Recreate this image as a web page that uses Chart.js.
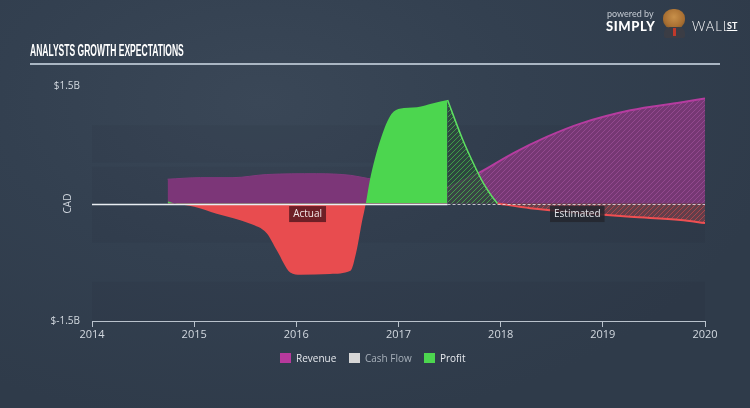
<!DOCTYPE html>
<html><head><meta charset="utf-8">
<script src="https://cdn.jsdelivr.net/npm/chart.js@4"></script>
<style>
html,body{margin:0;padding:0;width:750px;height:408px;overflow:hidden;background:#323f4e;}
#wrap{position:relative;width:750px;height:408px;background:radial-gradient(ellipse 70% 80% at 35% 25%, #3a4757 0%, #334050 50%, #2f3b4a 100%);}
canvas{position:absolute;left:0;top:0;}
#title{position:absolute;left:30px;top:42px;color:#fff;font:bold 16px "Liberation Sans Narrow",sans-serif;white-space:nowrap;transform-origin:0 0;}
#rule{position:absolute;left:30px;top:63px;width:690px;height:2px;background:#aab6c3;}
.lg{position:absolute;top:351px;font:10px "Open Sans",sans-serif;color:#e6e9ee;white-space:nowrap;}
.sw{display:inline-block;width:11px;height:10px;vertical-align:-1px;margin-right:5px;}
#pb{position:absolute;left:607px;top:8px;font:9px Lato,sans-serif;color:#c5cbd3;}
#simply{position:absolute;left:606px;top:18px;font:900 13px Lato,sans-serif;color:#fff;letter-spacing:0.6px;}
#wall{position:absolute;left:692px;top:18px;font:300 13px Lato,sans-serif;color:#fff;letter-spacing:1px;}
#st{position:absolute;left:727px;top:20px;font:bold 9px Lato,sans-serif;color:#fff;text-decoration:underline;}
#head{position:absolute;left:663px;top:9px;width:22px;height:20px;border-radius:45%;background:radial-gradient(circle at 50% 40%, #c8904a 0%, #a86f32 60%, #6d4a26 100%);}
#suit{position:absolute;left:664px;top:27px;width:21px;height:11px;border-radius:6px 6px 2px 2px;background:#3b3d45;}
#tie{position:absolute;left:673px;top:28px;width:3px;height:8px;background:#c0392b;}
</style></head>
<body><div id="wrap">
<canvas id="c" width="750" height="408"></canvas>
<div id="title">ANALYSTS GROWTH EXPECTATIONS</div>
<div id="rule"></div>
<div id="pb">powered by</div>
<div id="simply">SIMPLY</div>
<div id="head"></div><div id="suit"></div><div id="tie"></div>
<div id="wall">WALL</div>
<div id="st">ST</div>
<div class="lg" style="left:280px"><span class="sw" style="background:#b7399c"></span>Revenue</div>
<div class="lg" style="left:349px;color:#a7b0ba"><span class="sw" style="background:#d6d6d6"></span>Cash Flow</div>
<div class="lg" style="left:424px"><span class="sw" style="background:#4cd64f"></span>Profit</div>
</div>
<script>
// ---- data (values in billions CAD) ----
const xTicks = [2014, 2015, 2016, 2017, 2018, 2019, 2020];

const revenueActualX = [2014.74, 2015.06, 2015.38, 2015.71, 2016.2, 2016.53, 2016.7, 2017.0, 2017.3, 2017.48];
const revenueActualY = [0.31, 0.33, 0.33, 0.37, 0.38, 0.36, 0.32, 0.27, 0.23, 0.2];

const revenueEstX = [2017.48, 2017.8, 2018.12, 2018.45, 2018.78, 2019.27, 2019.76, 2020.0];
const revenueEstY = [0.2, 0.4, 0.64, 0.85, 1.02, 1.19, 1.29, 1.34];

const profitActualX = [2014.74, 2014.81, 2015.0, 2015.22, 2015.55, 2015.71, 2015.81, 2015.94, 2016.04, 2016.33, 2016.53, 2016.59, 2016.64, 2016.68, 2016.72, 2016.82, 2016.92, 2017.01, 2017.18, 2017.34, 2017.48];
const profitActualY = [0.03, 0.0, -0.04, -0.13, -0.26, -0.38, -0.6, -0.88, -0.91, -0.9, -0.86, -0.6, -0.25, 0.0, 0.3, 0.8, 1.12, 1.21, 1.23, 1.28, 1.32];

const profitEstPosX = [2017.48, 2017.63, 2017.73, 2017.83, 2017.92, 2017.97];
const profitEstPosY = [1.32, 0.81, 0.52, 0.26, 0.08, 0.0];

const profitEstNegX = [2017.97, 2018.29, 2018.78, 2019.27, 2019.76, 2020.0];
const profitEstNegY = [0.0, -0.06, -0.12, -0.17, -0.21, -0.25];

const estimateStart = 2017.48;
const yRange = [-1.5, 1.5];

const pts = (xs, ys) => xs.map((x, i) => ({x, y: ys[i]}));

function hatch(bg, line, size, lw) {
  const c = document.createElement('canvas'); c.width = c.height = size;
  const g = c.getContext('2d');
  g.fillStyle = bg; g.fillRect(0, 0, size, size);
  g.strokeStyle = line; g.lineWidth = lw;
  g.beginPath();
  g.moveTo(0, size); g.lineTo(size, 0);
  g.moveTo(-1, 1); g.lineTo(1, -1);
  g.moveTo(size - 1, size + 1); g.lineTo(size + 1, size - 1);
  g.stroke();
  return g.createPattern(c, 'repeat');
}
const purpleHatch = hatch('rgba(122,56,118,0.95)', 'rgba(150,75,145,0.9)', 5, 1);
const greenHatch = hatch('rgba(44,72,60,0.82)', 'rgba(76,214,79,0.6)', 5, 1);
const redHatch = hatch('rgba(232,76,79,0.28)', 'rgba(232,76,79,0.55)', 5, 1);

// title width fit
const t = document.getElementById('title');
t.style.transform = 'scaleX(' + (154 / t.offsetWidth) + ')';

const bandsPlugin = {
  id: 'bands',
  beforeDatasetsDraw(chart) {
    const {ctx, chartArea: a, scales: {y}} = chart;
    const bands = [[1.0, 0.52], [0.47, -0.5], [-1.0, -1.5]];
    ctx.save();
    ctx.fillStyle = 'rgba(0,0,0,0.035)';
    bands.forEach(([hi, lo]) => {
      const y1 = y.getPixelForValue(hi), y2 = y.getPixelForValue(lo);
      ctx.fillRect(a.left, y1, a.right - a.left, y2 - y1);
    });
    ctx.restore();
  }
};

const overlayPlugin = {
  id: 'overlay',
  afterDatasetsDraw(chart) {
    const {ctx, chartArea: a, scales: {x, y}} = chart;
    const y0 = Math.round(y.getPixelForValue(0)) + 0.5;
    const xe = x.getPixelForValue(estimateStart);
    ctx.save();
    ctx.lineWidth = 1.5;
    ctx.strokeStyle = '#e9edf2';
    ctx.beginPath(); ctx.moveTo(a.left, y0); ctx.lineTo(xe, y0); ctx.stroke();
    ctx.setLineDash([3, 2]);
    ctx.strokeStyle = 'rgba(240,240,245,0.75)';
    ctx.lineWidth = 1;
    ctx.beginPath(); ctx.moveTo(xe, y0); ctx.lineTo(a.right, y0); ctx.stroke();
    ctx.setLineDash([]);
    // labels
    ctx.font = '10px "Open Sans", sans-serif';
    ctx.textBaseline = 'middle'; ctx.textAlign = 'center';
    const lab = (txt, xv, yv, bg, fg) => {
      const px = x.getPixelForValue(xv), py = y.getPixelForValue(yv);
      const w = ctx.measureText(txt).width + 8;
      ctx.fillStyle = bg; ctx.fillRect(px - w / 2, py - 8, w, 16);
      ctx.fillStyle = fg; ctx.fillText(txt, px, py + 0.5);
    };
    lab('Actual', 2016.11, -0.135, '#6e1f26', '#f2e6e6');
    lab('Estimated', 2018.75, -0.135, 'rgba(35,38,46,0.85)', '#e4e6ea');
    ctx.restore();
  },
  afterDraw(chart) {
    const {ctx, scales: {y}} = chart;
    ctx.save();
    ctx.translate(68, y.getPixelForValue(0));
    ctx.rotate(-Math.PI / 2);
    ctx.font = '10px "Open Sans", sans-serif';
    ctx.fillStyle = '#d0d6de';
    ctx.textAlign = 'center'; ctx.textBaseline = 'middle';
    ctx.fillText('CAD', 0, 0);
    ctx.restore();
  }
};

new Chart(document.getElementById('c'), {
  type: 'line',
  data: {
    datasets: [
      {label: 'Revenue', data: pts(revenueActualX, revenueActualY), order: 5,
       borderColor: '#82397e', borderWidth: 1, backgroundColor: '#7c3678', fill: 'origin',
       pointRadius: 0, cubicInterpolationMode: 'monotone'},
      {label: 'Revenue est', data: pts(revenueEstX, revenueEstY), order: 4,
       borderColor: '#b53c9f', borderWidth: 2, backgroundColor: purpleHatch, fill: 'origin',
       pointRadius: 0, cubicInterpolationMode: 'monotone'},
      {label: 'Profit', data: pts(profitActualX, profitActualY), order: 3,
       borderWidth: 0, borderColor: 'rgba(0,0,0,0)',
       fill: {target: 'origin', above: '#4cd64f', below: '#e84c4f'},
       pointRadius: 0, cubicInterpolationMode: 'monotone'},
      {label: 'Profit est +', data: pts(profitEstPosX, profitEstPosY), order: 2,
       borderColor: '#5ee062', borderWidth: 1.5, backgroundColor: greenHatch, fill: 'origin',
       pointRadius: 0, cubicInterpolationMode: 'monotone'},
      {label: 'Profit est -', data: pts(profitEstNegX, profitEstNegY), order: 1,
       borderColor: '#ef4f52', borderWidth: 2, backgroundColor: redHatch, fill: 'origin',
       pointRadius: 0, cubicInterpolationMode: 'monotone'}
    ]
  },
  options: {
    responsive: false, animation: false, devicePixelRatio: 1,
    layout: {padding: {left: 0, right: 45, top: 86, bottom: 57}},
    plugins: {legend: {display: false}, tooltip: {enabled: false}},
    scales: {
      x: {type: 'linear', min: xTicks[0], max: xTicks[xTicks.length - 1],
          afterBuildTicks: s => { s.ticks = xTicks.map(v => ({value: v})); },
          ticks: {color: '#d3d9e0', font: {size: 11, family: 'Open Sans'}, padding: 1, callback: v => String(v), maxRotation: 0},
          grid: {drawOnChartArea: false, drawTicks: true, tickLength: 6, color: '#b9c2cc', lineWidth: 1},
          border: {display: true, color: '#b9c2cc', width: 1},
          afterFit: s => { s.height = 30; }},
      y: {min: yRange[0], max: yRange[1],
          afterBuildTicks: s => { s.ticks = [{value: yRange[0]}, {value: 0}, {value: yRange[1]}]; },
          ticks: {color: '#d3d9e0', font: {size: 10, family: 'Open Sans'}, padding: 12,
                  callback: v => v === 0 ? '' : '$' + v + 'B'},
          grid: {display: false, drawTicks: false},
          border: {display: false},
          afterFit: s => { s.width = 92; }}
    }
  },
  plugins: [bandsPlugin, overlayPlugin]
});
</script>
</body></html>
